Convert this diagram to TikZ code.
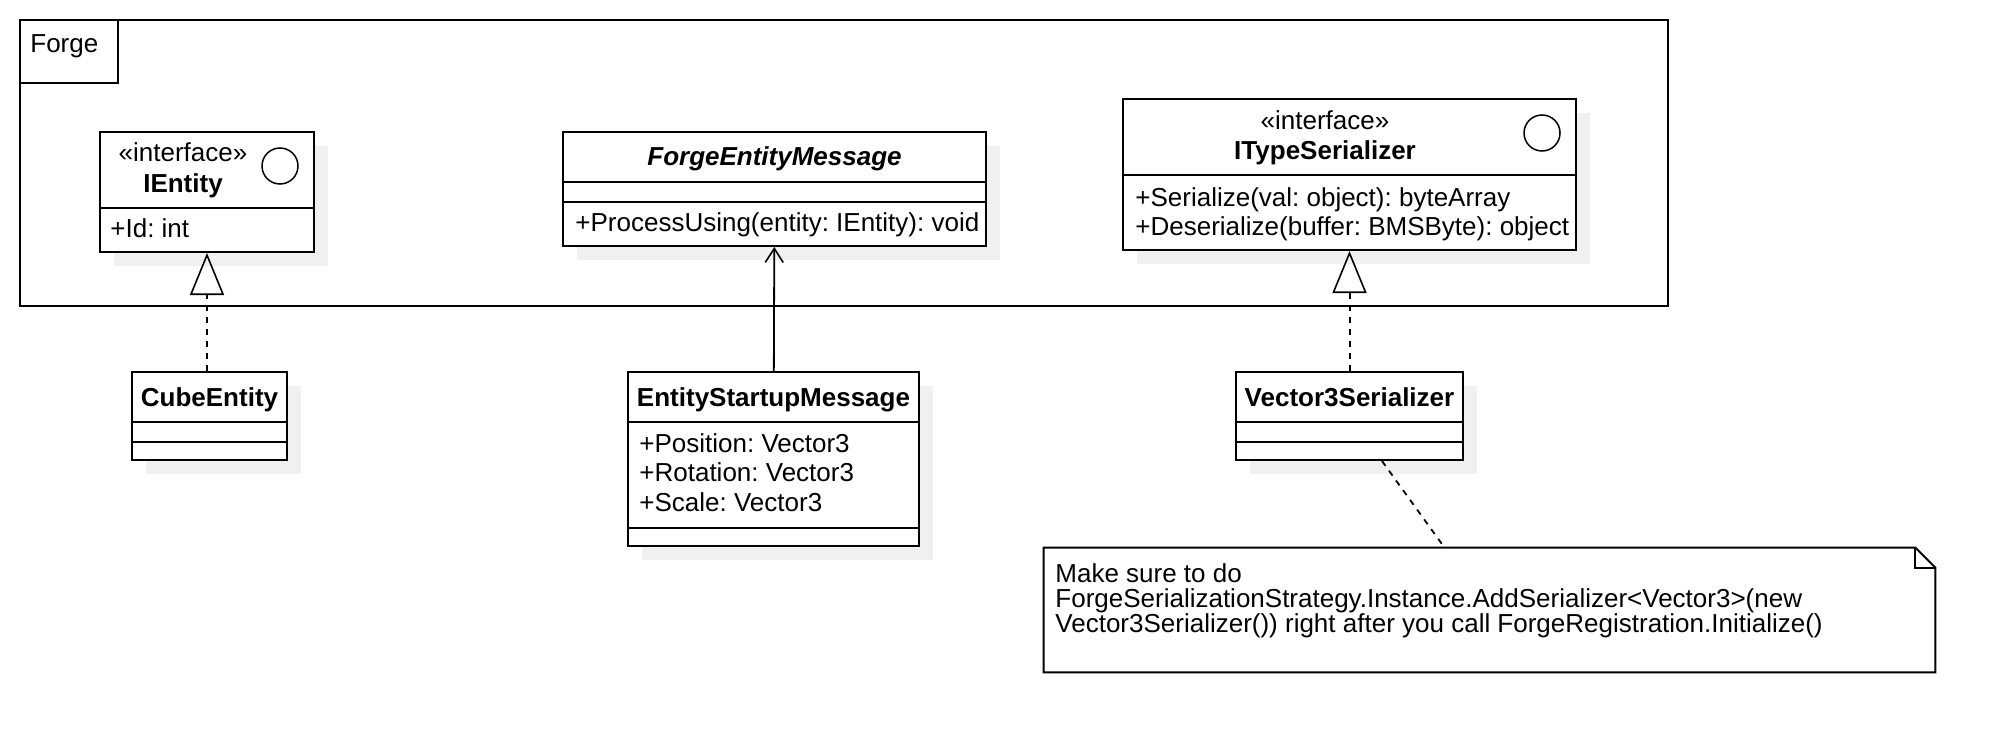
\documentclass[tikz,border=0pt]{standalone}
\usepackage{fontspec}
\setmainfont{Liberation Sans}
\usetikzlibrary{positioning,fit,shadows,arrows.meta}
\frenchspacing

\tikzset{
	frame/.style={draw, line width=1pt, inner sep=0pt},
	classbox/.style={frame, fill=white,
		general shadow={fill=black!6, shadow xshift=7pt, shadow yshift=-7pt}},
	txt/.style={inner sep=0pt, anchor=base west, font=\fontsize{13}{12.5}\selectfont},
	ctxt/.style={txt, anchor=base},
	bold/.style={font=\fontsize{13}{12.5}\selectfont\bfseries},
	sep/.style={line width=1pt},
	badge/.style={draw, circle, line width=0.75pt, minimum size=18pt, inner sep=0pt},
	realize/.style={line width=1pt, dash pattern=on 3pt off 3pt,
		-{Triangle[open, length=21pt, width=17pt, line width=0.8pt]}},
	assoc/.style={line width=0.9pt, -{Straight Barb[length=7pt, width=9pt, line width=0.8pt]}},
	notelink/.style={line width=0.9pt, dash pattern=on 3pt off 3pt},
}

\begin{document}
\begin{tikzpicture}[x=0.5pt, y=-0.5pt]
	\useasboundingbox (0,0) rectangle (2016,754);
	%% package frame
	\node[frame, fit={(20,20) (1668,306)}] (forge) {};
	\node[frame, fit={(20,20) (118,83)}] (tab) {};
	\node[txt] (forgelbl) at (30,53) {Forge};

	%% IEntity
	\node[classbox, fit={(100,132) (314,252)}] (ientity) {};
	\draw[sep] (ientity.west |- 0,208) -- (ientity.east |- 0,208);
	\node[badge] (ientitybadge) at (280,166) {};
	\node[ctxt] (ientitystereo) at (183,162) {«interface»};
	\node[ctxt, bold] (ientityname) at (183,192) {IEntity};
	\node[txt] (ientityid) at (110,237) {+Id: int};

	%% ForgeEntityMessage
	\node[classbox, fit={(563,132) (986,246)}] (fem) {};
	\draw[sep] (fem.west |- 0,182) -- (fem.east |- 0,182);
	\draw[sep] (fem.west |- 0,202) -- (fem.east |- 0,202);
	\node[ctxt, font=\fontsize{13}{12.5}\selectfont\bfseries\itshape] (femname) at (774.5,166) {ForgeEntityMessage};
	\node[txt] (femop) at (575,232) {+ProcessUsing(entity: IEntity): void};

	%% ITypeSerializer
	\node[classbox, fit={(1123,99) (1576,250)}] (its) {};
	\draw[sep] (its.west |- 0,175) -- (its.east |- 0,175);
	\node[badge] (itsbadge) at (1542,133) {};
	\node[ctxt] (itsstereo) at (1325,130) {«interface»};
	\node[ctxt, bold] (itsname) at (1325,160) {ITypeSerializer};
	\node[txt] (itsop1) at (1135,206) {+Serialize(val: object): byteArray};
	\node[txt] (itsop2) at (1135,235) {+Deserialize(buffer: BMSByte): object};

	%% CubeEntity
	\node[classbox, fit={(132,372) (287,460)}] (cube) {};
	\draw[sep] (cube.west |- 0,422) -- (cube.east |- 0,422);
	\draw[sep] (cube.west |- 0,442) -- (cube.east |- 0,442);
	\node[ctxt, bold] (cubename) at (209.5,406) {CubeEntity};

	%% EntityStartupMessage
	\node[classbox, fit={(628,372) (919,546)}] (esm) {};
	\draw[sep] (esm.west |- 0,422) -- (esm.east |- 0,422);
	\draw[sep] (esm.west |- 0,528) -- (esm.east |- 0,528);
	\node[ctxt, bold] (esmname) at (773.5,406) {EntityStartupMessage};
	\node[txt] (esmpos) at (639,452) {+Position: Vector3};
	\node[txt] (esmrot) at (639,481) {+Rotation: Vector3};
	\node[txt] (esmscale) at (639,511) {+Scale: Vector3};

	%% Vector3Serializer
	\node[classbox, fit={(1236,372) (1463,460)}] (v3s) {};
	\draw[sep] (v3s.west |- 0,422) -- (v3s.east |- 0,422);
	\draw[sep] (v3s.west |- 0,442) -- (v3s.east |- 0,442);
	\node[ctxt, bold] (v3sname) at (1349.5,406) {Vector3Serializer};

	%% note
	\node[inner sep=0pt, fit={(1044,548) (1935,672)}] (note) {};
	\draw[sep] (note.north west) -- ([xshift=-10pt]note.north east) -- ([yshift=-10pt]note.north east)
		-- (note.south east) -- (note.south west) -- cycle;
	\draw[sep] ([xshift=-10pt]note.north east) -- ([xshift=-10pt, yshift=-10pt]note.north east)
		-- ([yshift=-10pt]note.north east);
	% base of a multi-line node is the last line
	\node[txt, align=left] (notetext) at (1055,632)
		{Make sure to do\\ForgeSerializationStrategy.Instance.AddSerializer<Vector3>(new\\Vector3Serializer()) right after you call ForgeRegistration.Initialize()};

	%% connectors
	\draw[realize] (cube.north -| ientity.south) -- (ientity.south);
	\draw[realize] (v3s.north) -- (its.south);
	\draw[assoc] (esm) -- (fem);
	\draw[notelink] (v3s) -- (note);
\end{tikzpicture}
\end{document}
